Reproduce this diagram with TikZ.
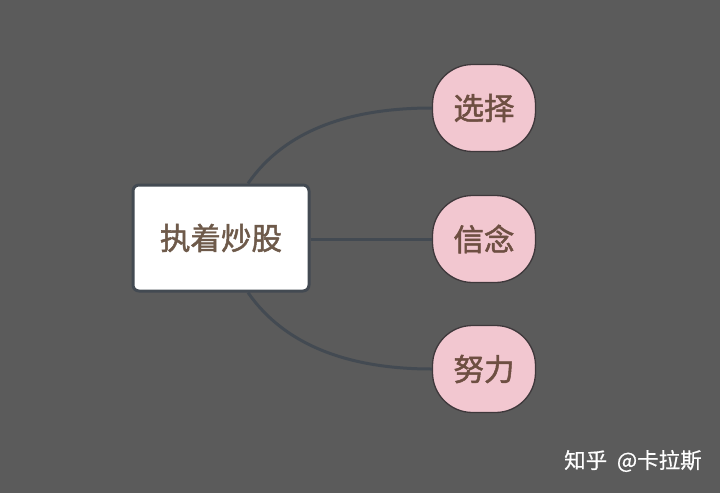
\documentclass[tikz,border=0pt]{standalone}
\usepackage{fontspec}
\setmainfont{Noto Sans CJK SC}
\newfontfamily\boldcjk[FakeBold=1.6]{Noto Sans CJK SC}
\newfontfamily\wmcjk[FakeBold=0.6]{Noto Sans CJK SC}
\definecolor{bgc}{HTML}{5B5B5B}
\definecolor{linec}{HTML}{434A52}
\definecolor{pinkc}{HTML}{F2C7D0}
\definecolor{pinkbd}{HTML}{3E383B}
\definecolor{txtc}{HTML}{6E5A4A}
\definecolor{ptxt}{HTML}{6E4F42}
\begin{document}
\begin{tikzpicture}[x=1pt,y=-1pt,
  rootbox/.style={draw=linec, line width=3pt, fill=white, rounded corners=6pt,
    minimum width=176pt, minimum height=106pt, inner sep=0pt,
    font=\boldcjk\fontsize{30.5}{30}\selectfont, text=txtc},
  leafbox/.style={draw=pinkbd, line width=1.3pt, fill=pinkc, rounded corners=40pt,
    minimum width=103pt, minimum height=87pt, inner sep=0pt,
    font=\boldcjk\fontsize{30.5}{30}\selectfont, text=ptxt},
  conn/.style={draw=linec, line width=3pt}]
\fill[bgc] (0,0) rectangle (720,493);
\useasboundingbox (0,0) rectangle (720,493);
\node[rootbox] (c) at (221,238) {执着炒股};
\node[leafbox] (s1) at (484,108) {选择};
\node[leafbox] (s2) at (484,239) {信念};
\node[leafbox] (s3) at (484,369) {努力};
\draw[conn] ([xshift=27pt]c.north) .. controls (285,130) and (350,108) .. (s1.west);
\draw[conn] (c.east |- s2.west) -- (s2.west);
\draw[conn] ([xshift=27pt]c.south) .. controls (285,346) and (350,369) .. (s3.west);
\node[text=white, font=\wmcjk\fontsize{21.5}{21}\selectfont, anchor=west, inner sep=0pt] (wm) at (564,461) {知乎\hspace{0.45em}@卡拉斯};
\end{tikzpicture}
\end{document}
